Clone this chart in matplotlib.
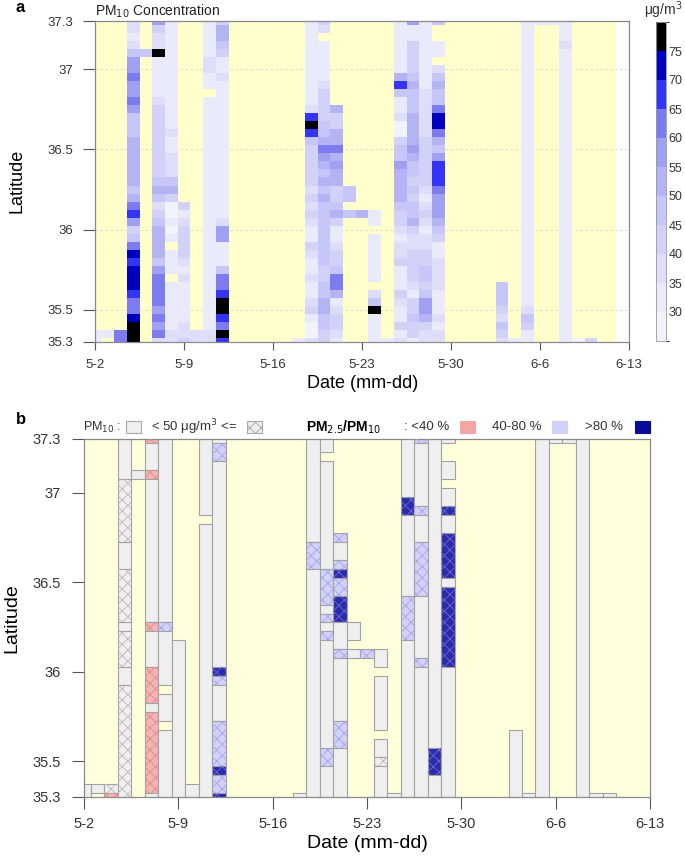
import numpy as np
import matplotlib.pyplot as plt
from matplotlib.colors import ListedColormap, BoundaryNorm
from matplotlib.patches import Rectangle
import matplotlib as mpl

plt.rcParams['font.family'] = ['Liberation Sans', 'DejaVu Sans']
plt.rcParams['hatch.linewidth'] = 0.6

# ---- data ----
date_labels = ['5-2', '5-9', '5-16', '5-23', '5-30', '6-6', '6-13']
date_ticks = [0, 7, 14, 21, 28, 35, 42]
lat_ticks = [35.3, 35.5, 36, 36.5, 37, 37.3]
lat_top = 37.3
lat_step = 0.05
n_days_a = 41

bins = [25, 30, 35, 40, 45, 50, 55, 60, 65, 70, 75, 80]
bin_colors = ['#f3f3fe', '#eaeafd', '#dedefb', '#d2d2f9', '#c6c6f8', '#b4b4f5',
              '#a0a0f3', '#7c7cf0', '#3434f8', '#0000bf', '#000000']


def g(s):
    return s.replace(' ', '')


# PM10 class per day column (rows from 37.3 N down to 35.3 N, step 0.05)
# '.' = no data, '0'..'a' = class index into bins
pm10_cols = [
    '.' * 39 + '11',                                            # 5-2
    '.' * 39 + '1.',                                            # 5-3
    '.' * 39 + '77',                                            # 5-4
    g('22124 66766 76444 55555 54578 63479 89998 779aa a'),     # 5-5
    '....4' + '.' * 36,                                         # 5-6
    g('6322a 11111 23333 33333 45423 45555 46777 76767 2'),     # 5-7
    g('11111 11111 11112 11222 45300 101.1 11.11 11112 2'),     # 5-8
    '.' * 23 + g('31233 33212 11111 223'),                      # 5-9
    '.' * 39 + '22',                                            # 5-10
    g('11111 2211.') + '1' * 29 + '22',                         # 5-11
    g('35543 11211 11111 11111 11111 26611 14778 aa87a 8'),     # 5-12
    '.' * 41, '.' * 41, '.' * 41, '.' * 41, '.' * 41,           # 5-13 .. 5-17
    '.' * 40 + '1',                                             # 5-18
    g('11111 11111 128a8 43333 32323 21132 11211 23100 2'),     # 5-19
    g('32.11 11123 33344 57654 54544 44444 43344 55443 3'),     # 5-20
    '.' * 11 + g('53355 75655 33453 11233 47751 23321'),        # 5-21
    '.' * 21 + '44.4' + '.' * 16,                               # 5-22
    '.' * 24 + '5' + '.' * 16,                                  # 5-23
    '.' * 24 + g('11.11 1111. 24a11 11'),                       # 5-24
    '.' * 40 + '1',                                             # 5-25
    g('11111 11584 11200 34465 55543 32122 31113 21131 2'),     # 5-26
    g('61133 33454 44555 56544 34344 53223 33321 33433 1'),     # 5-27
    g('11111 11112 22222 33333 32123 21223 34434 66532 2'),     # 5-28
    g('4..11 .2454 47997 54688 87666 54311 22221 11212 2'),     # 5-29
    '.' * 41, '.' * 41, '.' * 41, '.' * 41,                     # 5-30 .. 6-2
    '.' * 33 + '44432432',                                      # 6-3
    '.' * 40 + '1',                                             # 6-4
    '1' * 36 + '24311',                                         # 6-5
    '1' + '.' * 40,                                             # 6-6
    '1' + '.' * 40,                                             # 6-7
    '1112' + '1' * 37,                                          # 6-8
    '.' * 40 + '0',                                             # 6-9
    '.' * 40 + '3',                                             # 6-10
    '.' * 41,                                                   # 6-11
    '.' * 41,                                                   # 6-12
]

# PM2.5/PM10 ratio class: 'p' <40 %, 'l' 40-80 %, 'd' >80 %
ratio_cols = ['.' * 41 for _ in pm10_cols]
ratio_cols[2] = '.' * 40 + 'p'
ratio_cols[5] = 'p...p' + '.' * 16 + 'p....pppp.ppppppppp.'
ratio_cols[6] = '.' * 21 + 'l' + '.' * 19
ratio_cols[10] = '.ll' + '.' * 23 + 'dl....llllldlld'
ratio_cols[17] = '.' * 12 + 'lll' + '.' * 26
ratio_cols[18] = '.' * 15 + 'llll.l.l' + '.' * 12 + 'll' + '....'
ratio_cols[19] = '.' * 11 + 'l..ldllddd' + '...l' + '.' * 7 + 'lll' + '.' * 6
ratio_cols[21] = '.' * 24 + 'l' + '.' * 16
ratio_cols[24] = '.' * 7 + 'dd' + '.' * 9 + 'lllll' + '.' * 18
ratio_cols[25] = 'l' + '.' * 7 + 'l...' + 'llllll' + '.' * 7 + 'l' + '.' * 15
ratio_cols[26] = '.' * 35 + 'ddd...'
ratio_cols[27] = '.' * 8 + 'd..' + 'ddddd.' + 'd' * 9 + '.' * 15

for i, (a, b) in enumerate(zip(pm10_cols, ratio_cols)):
    if len(a) != 41 or len(b) != 41:
        raise ValueError(f'column {i}: {len(a)} {len(b)}')

levels = '0123456789a'
nan_color_a = '#ffffcc'
nan_color_b = '#ffffdc'
ratio_colors = {'.': '#efefef', 'p': '#f5b3b3', 'l': '#d2d2f8', 'd': '#2c2cab'}
hatch_colors = {'.': '#b8b8b8', 'p': '#e08a8a', 'l': '#a3a3e6', 'd': '#6a6ad8'}


def fx(px):
    return px / 685


def fy(py):
    return 1 - py / 856


def decode(s):
    return [np.nan if c == '.' else levels.index(c) for c in s]


cls = np.array([decode(s) for s in pm10_cols]).T  # rows x days
n_rows, n_cols = cls.shape
vals = np.array(bins)[np.nan_to_num(cls).astype(int)] + 2.5
vals = np.ma.masked_where(np.isnan(cls), vals)

lat_centers = lat_top - lat_step * np.arange(n_rows)
y_edges = np.append(lat_centers + lat_step / 2, lat_centers[-1] - lat_step / 2)
x_edges = np.arange(n_cols + 1) - 0.5

fig = plt.figure(figsize=(6.85, 8.56), dpi=100)

tick_kw = dict(direction='out', colors='#555555', labelcolor='#333333', width=0.8)


def style_axes(ax, fs, ylen, xlen, ypad, xpad):
    ax.set_xlim(0, 42)
    ax.set_ylim(35.3, 37.3)
    ax.set_xticks(date_ticks)
    ax.set_xticklabels(date_labels)
    ax.set_yticks(lat_ticks)
    ax.set_yticklabels(['35.3', '35.5', '36', '36.5', '37', '37.3'])
    ax.tick_params(axis='y', length=ylen, pad=ypad, labelsize=fs, **tick_kw)
    ax.tick_params(axis='x', length=xlen, pad=xpad, labelsize=fs, **tick_kw)
    for sp in ax.spines.values():
        sp.set_color('#8a8a8a')
        sp.set_linewidth(0.9)


# ---- panel a ----
axa = fig.add_axes([fx(95), fy(342), (629 - 95) / 685, (342 - 21) / 856])
axa.add_patch(Rectangle((0, 35.3), n_days_a, 2.0, facecolor=nan_color_a,
                        edgecolor='none', zorder=0))
for lt in [35.5, 36, 36.5, 37]:
    axa.axhline(lt, color='#d4d4d4', lw=0.6, ls=(0, (3, 3)), zorder=0.5)
cmap = ListedColormap(bin_colors)
norm = BoundaryNorm(bins, cmap.N)
axa.pcolormesh(x_edges, y_edges, vals, cmap=cmap, norm=norm, zorder=1)
style_axes(axa, 9.5, 9, 6, 7, 6)
axa.set_title('PM$_{10}$ Concentration', loc='left', fontsize=10, pad=4, color='#222222')

cax = fig.add_axes([fx(656), fy(341), 10 / 685, (341 - 22) / 856])
cb = mpl.colorbar.ColorbarBase(cax, cmap=cmap, norm=norm, ticks=bins[1:-1])
cb.outline.set_edgecolor('#9a9a9a')
cb.outline.set_linewidth(0.6)
cax.tick_params(length=0, labelsize=9, pad=2, labelcolor='#333333')
fig.text(fx(683), fy(10), 'μg/m$^3$', ha='right', va='center', fontsize=10, color='#333333')

fig.text(fx(20), fy(8), 'a', fontsize=12, fontweight='bold', ha='center', va='center')
fig.text(fx(17), fy(181), 'Latitude', rotation=90, fontsize=13, ha='center', va='center')
fig.text(fx(363), fy(383), 'Date (mm-dd)', fontsize=13, ha='center', va='center')

# ---- panel b ----
axb = fig.add_axes([fx(84), fy(797), (650 - 84) / 685, (797 - 439) / 856])
axb.set_facecolor(nan_color_b)
for k in range(n_cols):
    col = cls[:, k]
    rat = ratio_cols[k]
    j = 0
    while j < n_rows:
        if np.isnan(col[j]):
            j += 1
            continue
        key = (col[j] >= 5, rat[j])
        j2 = j + 1
        while j2 < n_rows and not np.isnan(col[j2]) and (col[j2] >= 5, rat[j2]) == key:
            j2 += 1
        top = y_edges[j]
        bot = y_edges[j2]
        axb.add_patch(Rectangle((k - 0.5, bot), 1, top - bot, facecolor=ratio_colors[key[1]],
                                edgecolor='#a2a2a2', lw=0.8, zorder=2))
        if key[0]:
            axb.add_patch(Rectangle((k - 0.5, bot), 1, top - bot, facecolor='none',
                                    edgecolor=hatch_colors[key[1]], lw=0, hatch='xxx', zorder=3))
        j = j2
style_axes(axb, 10.5, 8.5, 8.5, 8.5, 6)

fig.text(fx(21), fy(420), 'b', fontsize=12, fontweight='bold', ha='center', va='center')
fig.text(fx(12), fy(618), 'Latitude', rotation=90, fontsize=14, ha='center', va='center')
fig.text(fx(367), fy(843), 'Date (mm-dd)', fontsize=14, ha='center', va='center')

# legend row of panel b
ly = 427
fig.text(fx(83), fy(ly), 'PM$_{10}$ :', fontsize=9, ha='left', va='center', color='#333333')
fig.text(fx(151), fy(ly), '< 50 μg/m$^3$ <=', fontsize=9.5, ha='left', va='center', color='#333333')
fig.text(fx(306), fy(ly), 'PM$_{2.5}$/PM$_{10}$', fontsize=10, fontweight='bold', ha='left', va='center')
fig.text(fx(404), fy(ly), ': <40 %', fontsize=9.5, ha='left', va='center', color='#333333')
fig.text(fx(492), fy(ly), '40-80 %', fontsize=9.5, ha='left', va='center', color='#333333')
fig.text(fx(585), fy(ly), '>80 %', fontsize=9.5, ha='left', va='center', color='#333333')
legend_boxes = [(126, '#efefef', '#a8a8a8', None), (247, '#efefef', '#a8a8a8', 'xxx'),
                (460, '#f4a6a6', '#f4a6a6', None), (552, '#d2d2f8', '#d2d2f8', None),
                (635, '#0b0b9a', '#0b0b9a', None)]
for x0, fc, ec, h in legend_boxes:
    fig.add_artist(Rectangle((fx(x0), fy(ly + 6)), 15 / 685, 12 / 856, facecolor=fc,
                             edgecolor=ec, lw=0.8, hatch=h, transform=fig.transFigure))

fig.savefig('out.png', dpi=100)
